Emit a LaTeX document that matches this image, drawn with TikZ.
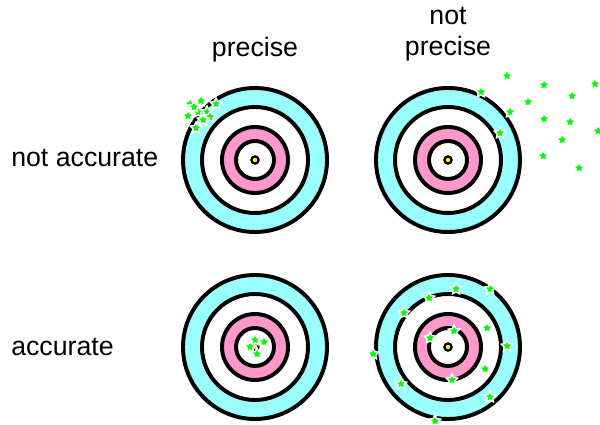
\documentclass[tikz,border=0pt]{standalone}
\usepackage{fontspec}
\setmainfont{Liberation Sans}
\usetikzlibrary{shapes.geometric}

\definecolor{ringcyan}{RGB}{153,255,255}
\definecolor{ringpink}{RGB}{255,153,204}
\definecolor{shotgreen}{RGB}{0,255,0}

\tikzset{
  label/.style={font=\fontsize{19}{23}\selectfont,inner sep=0pt},
  shot/.style={star,star points=5,star point ratio=2.0,fill=shotgreen,draw=white,
    line width=1pt,minimum size=8.5pt,inner sep=0pt},
  ring/.style={draw=black,line width=2.8pt}
}

% one target at a given centre (pixel units)
\newcommand{\target}[1]{%
  \fill[ringcyan] (#1) circle (72);
  \draw[ring] (#1) circle (72);
  \filldraw[ring,fill=white] (#1) circle (53);
  \filldraw[ring,fill=ringpink] (#1) circle (33);
  \filldraw[ring,fill=white] (#1) circle (19);
  \filldraw[fill=yellow,draw=black,line width=1.6pt] (#1) circle (3.6);
}

\begin{document}
\begin{tikzpicture}[x=0.025cm,y=-0.025cm]
\useasboundingbox (0,0) rectangle (600,425);

% the four targets
\target{255,160}
\target{448,160}
\target{255,347}
\target{448,347}

% column and row labels
\node[label,anchor=base] (prec) at (255,57) {precise};
\node[label,anchor=base,align=center] (notprec) at (448,56) {not\\[-0.5pt]precise};
\node[label,anchor=base west] (notacc) at (11,167) {not accurate};
\node[label,anchor=base west] (acc) at (11,356) {accurate};

% shots: precise, not accurate
\foreach \p [count=\i] in {(190,104),(201,101),(216,104),(198,112),(207,112),
    (188,116),(210,117),(203,120),(196,128),(194,107)}
  \node[shot] (a\i) at \p {};

% shots: not precise, not accurate
\foreach \p [count=\i] in {(507,76),(544,85),(595,84),(481,92),(572,96),
    (528,102),(510,112),(544,119),(570,122),(598,131),(500,133),(562,140),
    (543,156),(579,168)}
  \node[shot] (b\i) at \p {};

% shots: precise, accurate
\foreach \p [count=\i] in {(255,340),(264,342),(250,347),(257,354)}
  \node[shot] (c\i) at \p {};

% shots: not precise, accurate
\foreach \p [count=\i] in {(456,289),(490,289),(429,298),(404,313),(487,328),
    (454,331),(430,338),(507,346),(373,354),(485,369),(452,380),(401,384),
    (490,397),(435,421)}
  \node[shot] (d\i) at \p {};

\end{tikzpicture}
\end{document}
